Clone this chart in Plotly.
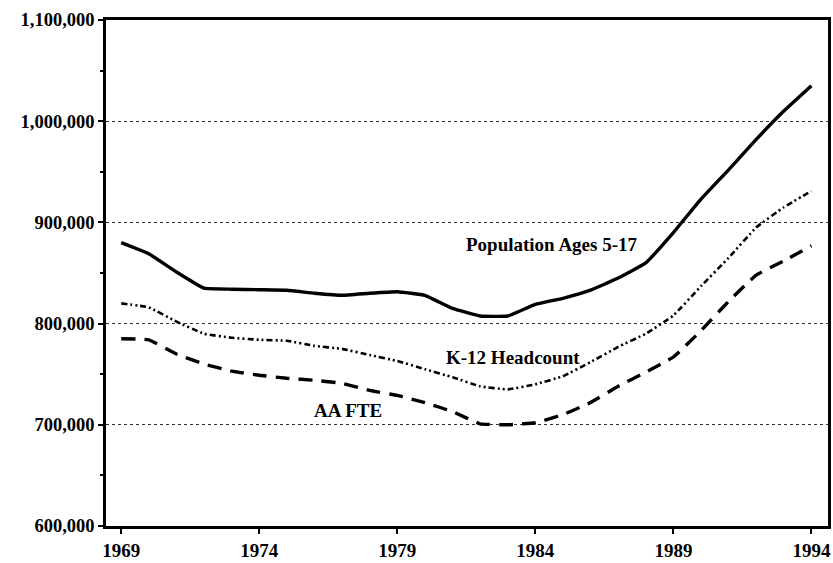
import plotly.graph_objects as go

years = list(range(1969, 1995))
population = [880000, 869000, 851000, 835000, 834000, 833500, 833000, 830000, 828000, 830000,
              831500, 828000, 815000, 807500, 807500, 819000, 825000, 833000, 845000, 860000,
              890000, 923000, 952000, 982000, 1010000, 1035000]
k12_headcount = [820000, 816000, 802000, 790000, 786000, 784000, 783000, 778000, 775000, 769000,
                 763000, 755000, 747000, 738000, 735000, 740000, 748000, 762000, 777000, 790000,
                 808000, 837000, 865000, 895000, 915000, 931000]
aa_fte = [785000, 784000, 770000, 760000, 753000, 749000, 746000, 744000, 741000, 734000,
          729000, 722000, 713000, 701000, 700000, 702000, 710000, 722000, 738000, 752000,
          767000, 793000, 822000, 848000, 862000, 877000]

x_ticks = [1969, 1974, 1979, 1984, 1989, 1994]
y_ticks = [600000, 700000, 800000, 900000, 1000000, 1100000]
y_labels = ["600,000", "700,000", "800,000", "900,000", "1,000,000", "1,100,000"]

labels = ["Population Ages 5-17", "K-12 Headcount", "AA FTE"]
label_x = [1984.6, 1983.2, 1977.2]
label_y = [878000, 767000, 714500]

FONT = "Liberation Serif"

fig = go.Figure()
fig.add_trace(go.Scatter(x=years, y=population, mode="lines", name=labels[0],
                         line=dict(color="black", width=3.4, shape="spline", smoothing=0.3)))
fig.add_trace(go.Scatter(x=years, y=k12_headcount, mode="lines", name=labels[1],
                         line=dict(color="black", width=2.6, dash="6px,3px,2px,3px,2px,3px",
                                   shape="spline", smoothing=0.3)))
fig.add_trace(go.Scatter(x=years, y=aa_fte, mode="lines", name=labels[2],
                         line=dict(color="black", width=3.4, dash="14px,9px",
                                   shape="spline", smoothing=0.3)))

for t, xx, yy in zip(labels, label_x, label_y):
    fig.add_annotation(x=xx, y=yy, text=f"<b>{t}</b>", showarrow=False,
                       font=dict(family=FONT, size=19, color="black"))

fig.update_layout(
    width=833, height=563,
    margin=dict(l=106, r=2, t=20, b=37),
    paper_bgcolor="white", plot_bgcolor="white",
    showlegend=False,
    font=dict(family=FONT, size=19, color="black"),
)
fig.update_xaxes(
    range=[1968.45, 1994.6], tickvals=x_ticks, ticktext=[f"<b>{v}</b>" for v in x_ticks],
    showgrid=False, zeroline=False,
    showline=True, linecolor="black", linewidth=2.5, mirror=True,
    ticks="outside", ticklen=5, tickwidth=1.5, tickcolor="black",
    tickfont=dict(family=FONT, size=19),
)
fig.update_yaxes(
    range=[600000, 1100000], tickvals=y_ticks, ticktext=[f"<b>{v}</b>" for v in y_labels],
    showgrid=True, gridcolor="#333333", gridwidth=1, griddash="dot",
    zeroline=False,
    showline=True, linecolor="black", linewidth=2.5, mirror=True,
    ticks="outside", ticklen=5, tickwidth=1.5, tickcolor="black",
    minor=dict(dtick=50000, tick0=600000, ticks="outside", ticklen=3, tickcolor="black", showgrid=False),
    tickfont=dict(family=FONT, size=18.5),
)

fig.write_html("out.html", config={"displayModeBar": False},
               post_script="document.body.style.margin='0';document.body.style.overflow='hidden';")
